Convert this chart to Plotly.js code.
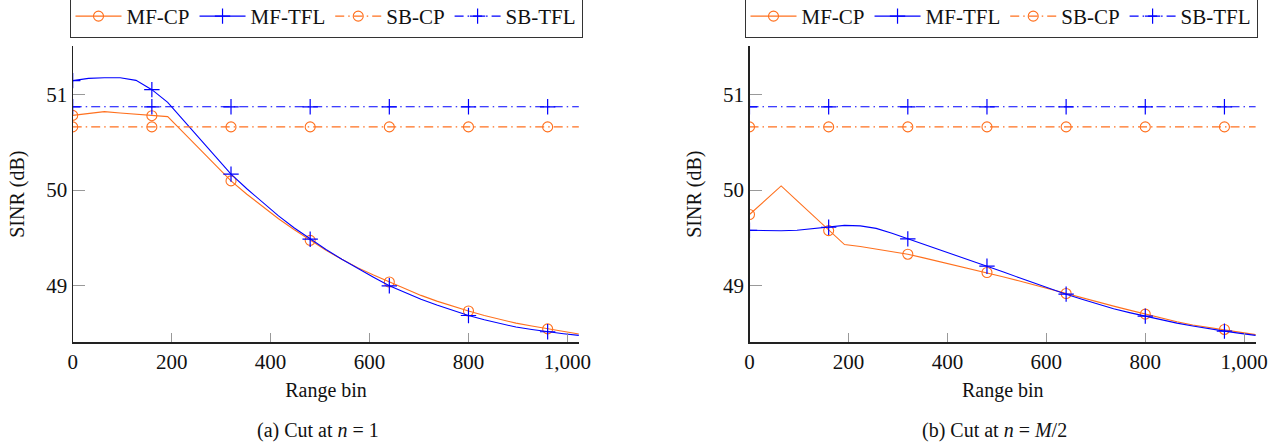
<!DOCTYPE html>
<html>
<head>
<meta charset="utf-8">
<script src="https://cdn.plot.ly/plotly-3.0.1.min.js"></script>
<style>html,body{margin:0;padding:0;background:#fff;}#chart{width:1286px;height:448px;}</style>
</head>
<body>
<div id="chart"></div>
<script>
// Range bins at which the curves are sampled
const rangeBins = [0,32,64,96,128,160,192,224,256,288,320,352,384,416,448,480,512,544,576,608,640,672,704,736,768,800,832,864,896,928,960,992,1023];
// SB reference levels (constant over range)
const sbBins = [0,160,320,480,640,800,960,1023];
const sbCP  = [50.66,50.66,50.66,50.66,50.66,50.66,50.66,50.66];
const sbTFL = [50.87,50.87,50.87,50.87,50.87,50.87,50.87,50.87];

// (a) Cut at n = 1
const mfCP_a  = [50.78,50.80,50.82,50.805,50.79,50.777,50.767,50.60,50.43,50.26,50.096,49.957,49.824,49.70,49.586,49.475,49.37,49.277,49.19,49.113,49.04,48.967,48.90,48.84,48.786,48.737,48.69,48.647,48.61,48.58,48.55,48.52,48.496];
const mfTFL_a = [51.143,51.167,51.174,51.174,51.146,51.049,50.917,50.73,50.536,50.348,50.167,50.014,49.868,49.73,49.604,49.487,49.379,49.278,49.18,49.09,49.0,48.93,48.86,48.80,48.743,48.69,48.645,48.603,48.569,48.544,48.52,48.50,48.482];

// (b) Cut at n = M/2
const mfCP_b  = [49.745,49.894,50.043,49.89,49.737,49.577,49.431,49.41,49.383,49.358,49.33,49.292,49.254,49.216,49.177,49.139,49.094,49.052,49.007,48.965,48.92,48.875,48.83,48.788,48.746,48.704,48.663,48.624,48.59,48.565,48.544,48.513,48.49];
const mfTFL_b = [49.58,49.577,49.575,49.58,49.595,49.612,49.631,49.626,49.6,49.55,49.49,49.435,49.376,49.32,49.264,49.205,49.146,49.087,49.028,48.97,48.913,48.86,48.81,48.76,48.72,48.683,48.645,48.61,48.58,48.55,48.527,48.503,48.482];

const seriesNames = ['MF-CP','MF-TFL','SB-CP','SB-TFL'];
const xTicks = [0,200,400,600,800,1000];
const yTicks = [49,50,51];
const captions = ['(a) Cut at <i>n</i> = 1','(b) Cut at <i>n</i> = <i>M</i>/2'];

const ORANGE = 'rgb(255,112,30)';
const BLUE = 'rgb(0,0,255)';
const CLEAR = 'rgba(0,0,0,0)';
const DASHDOT = '9px,4px,1.5px,4px';

// markers only every 160 bins (every 5th sample)
function markColors(xs, col){ return xs.map(x => (x % 160 === 0 && x <= 960) ? col : CLEAR); }

function makeTraces(xa, ya, leg, cp, tfl){
  return [
    {x: rangeBins, y: cp, name: seriesNames[0], xaxis: xa, yaxis: ya, legend: leg, mode: 'lines+markers',
     line: {color: ORANGE, width: 1.1},
     marker: {symbol: 'circle-open', size: 10, color: markColors(rangeBins, ORANGE), line: {width: 1.1}}},
    {x: rangeBins, y: tfl, name: seriesNames[1], xaxis: xa, yaxis: ya, legend: leg, mode: 'lines+markers',
     line: {color: BLUE, width: 1.1},
     marker: {symbol: 'cross-thin-open', size: 11, color: markColors(rangeBins, BLUE), line: {width: 1.2}}},
    {x: sbBins, y: sbCP, name: seriesNames[2], xaxis: xa, yaxis: ya, legend: leg, mode: 'lines+markers',
     line: {color: ORANGE, width: 1.1, dash: DASHDOT},
     marker: {symbol: 'circle-open', size: 10, color: markColors(sbBins, ORANGE), line: {width: 1.1}}},
    {x: sbBins, y: sbTFL, name: seriesNames[3], xaxis: xa, yaxis: ya, legend: leg, mode: 'lines+markers',
     line: {color: BLUE, width: 1.1, dash: DASHDOT},
     marker: {symbol: 'cross-thin-open', size: 11, color: markColors(sbBins, BLUE), line: {width: 1.2}}}
  ];
}

const data = [].concat(
  makeTraces('x','y','legend', mfCP_a, mfTFL_a),
  makeTraces('x2','y2','legend2', mfCP_b, mfTFL_b)
);

const FONT = '"Liberation Serif", "Times New Roman", Times, serif';
const W = 1286, H = 448;
const plotTop = 46, plotBottom = 342.3;
const yDom = [1 - plotBottom/H, 1 - plotTop/H];

function xAxis(dom, anchor){
  return {domain: dom, anchor: anchor, range: [0,1024], tickmode: 'array', tickvals: xTicks, tickformat: ',d',
    showline: true, linecolor: '#222', linewidth: 1.2, ticks: 'inside', ticklen: 9, tickcolor: '#999', tickwidth: 1,
    showgrid: false, zeroline: false, automargin: false, tickfont: {family: FONT, size: 21, color: '#111'},
    title: {text: 'Range bin', font: {family: FONT, size: 20, color: '#111'}, standoff: 10}};
}
function yAxis(anchor){
  return {domain: yDom, anchor: anchor, range: [48.41,51.505], tickmode: 'array', tickvals: yTicks,
    showline: true, linecolor: '#222', linewidth: 1.2, ticks: 'inside', ticklen: 12, tickcolor: '#999', tickwidth: 1,
    showgrid: false, zeroline: false, automargin: false, tickfont: {family: FONT, size: 21, color: '#111'},
    title: {text: 'SINR (dB)', font: {family: FONT, size: 20, color: '#111'}, standoff: 16}};
}
function legend(xc){
  return {orientation: 'h', x: xc, xanchor: 'center', y: 1 - 38/H, yanchor: 'bottom',
    bordercolor: '#333', borderwidth: 1, bgcolor: '#fff', font: {family: FONT, size: 21, color: '#111'},
    itemwidth: 46, traceorder: 'normal'};
}

const layout = {
  width: W, height: H, margin: {l: 0, r: 0, t: 0, b: 0, autoexpand: false},
  paper_bgcolor: '#fff', plot_bgcolor: '#fff', showlegend: true,
  font: {family: FONT, size: 20, color: '#111'},
  xaxis: xAxis([72.7/W, 579.3/W], 'y'),
  yaxis: yAxis('x'),
  xaxis2: xAxis([749.5/W, 1256.1/W], 'y2'),
  yaxis2: yAxis('x2'),
  legend: legend(326/W),
  legend2: legend(1001/W),
  annotations: [
    {text: captions[0], xref: 'paper', yref: 'paper', x: 318/W, y: 1 - 430/H, xanchor: 'center', yanchor: 'middle', showarrow: false, font: {family: FONT, size: 20, color: '#111'}},
    {text: captions[1], xref: 'paper', yref: 'paper', x: 994/W, y: 1 - 430/H, xanchor: 'center', yanchor: 'middle', showarrow: false, font: {family: FONT, size: 20, color: '#111'}}
  ]
};

Plotly.newPlot('chart', data, layout, {staticPlot: true, displayModeBar: false});
</script>
</body>
</html>
